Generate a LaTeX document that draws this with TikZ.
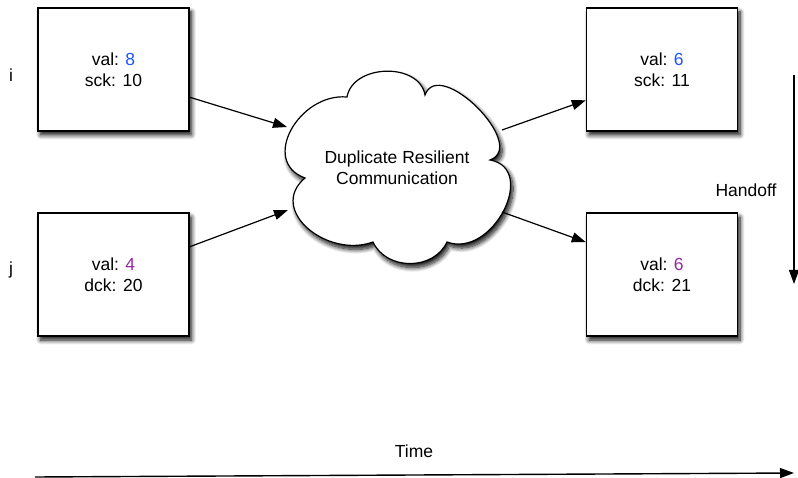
\documentclass[tikz,border=0pt]{standalone}
\usepackage{fontspec}
\setmainfont{Liberation Sans}
\usetikzlibrary{arrows.meta,shadows.blur}
\definecolor{valblue}{RGB}{30,84,255}
\definecolor{valpurple}{RGB}{150,40,160}
\begin{document}
\begin{tikzpicture}[x=1pt,y=1pt,
  font=\fontsize{17.5}{21}\selectfont,
  softshadow/.style={blur shadow={shadow xshift=2.5pt,shadow yshift=-4pt,shadow blur radius=4.5pt,
    shadow blur steps=10,shadow opacity=95}},
  statebox/.style={draw=black,line width=1.4pt,fill=white,minimum width=151pt,minimum height=123pt,
    align=center,inner sep=0pt,softshadow},
  link/.style={draw=black,line width=1.2pt,-{Triangle[length=14pt,width=10pt]}},
  plain/.style={inner sep=0pt}]
\useasboundingbox (0,0) rectangle (798,-478);

% state boxes of the two processes, before and after
\node[statebox] (bi) at (113.5,-69.5) {val: \textcolor{valblue}{8}\\sck: 10};
\node[statebox] (bj) at (113.5,-274.5) {val: \textcolor{valpurple}{4}\\dck: 20};
\node[statebox] (bk) at (662,-69.5) {val: \textcolor{valblue}{6}\\sck: 11};
\node[statebox] (bl) at (662,-274.5) {val: \textcolor{valpurple}{6}\\dck: 21};

% process labels
\node[plain] (li) at (11,-75) {i};
\node[plain] (lj) at (11,-270) {j};

% the communication cloud
\draw[line width=1.2pt,fill=white,softshadow]
  (347,-97) to[out=80,in=100,looseness=1.1] (425,-95)
  to[out=70,in=20,looseness=1.15] (490,-160)
  to[out=-10,in=-20,looseness=1.35] (447,-242)
  to[out=-115,in=-65,looseness=1.1] (373,-242)
  to[out=-160,in=-140,looseness=1.35] (305,-178)
  to[out=160,in=175,looseness=1.35] cycle;
\node[plain,align=center] (cloud) at (397,-168) {Duplicate Resilient\\Communication};

% points where the links meet the cloud outline
\coordinate (cin1) at (287,-127);
\coordinate (cin2) at (288,-210);
\coordinate (cout1) at (502,-130);
\coordinate (cout2) at (502,-212);

\draw[link] (bi.-20.7) -- (cin1);
\draw[link] (bj.20) -- (cin2);
\draw[link] (cout1) -- (bk.202);
\draw[link] (cout2) -- (bl.157);

% handoff direction
\coordinate (hs) at (794,-75);
\coordinate (he) at (794,-284);
\draw[link] (hs) -- (he);
\node[plain] (handoff) at (746,-190) {Handoff};

% time axis
\coordinate (ts) at (35,-477);
\coordinate (te) at (794,-473);
\draw[link,line width=1.4pt] (ts) -- (te);
\node[plain] (time) at (414,-451) {Time};
\end{tikzpicture}
\end{document}
